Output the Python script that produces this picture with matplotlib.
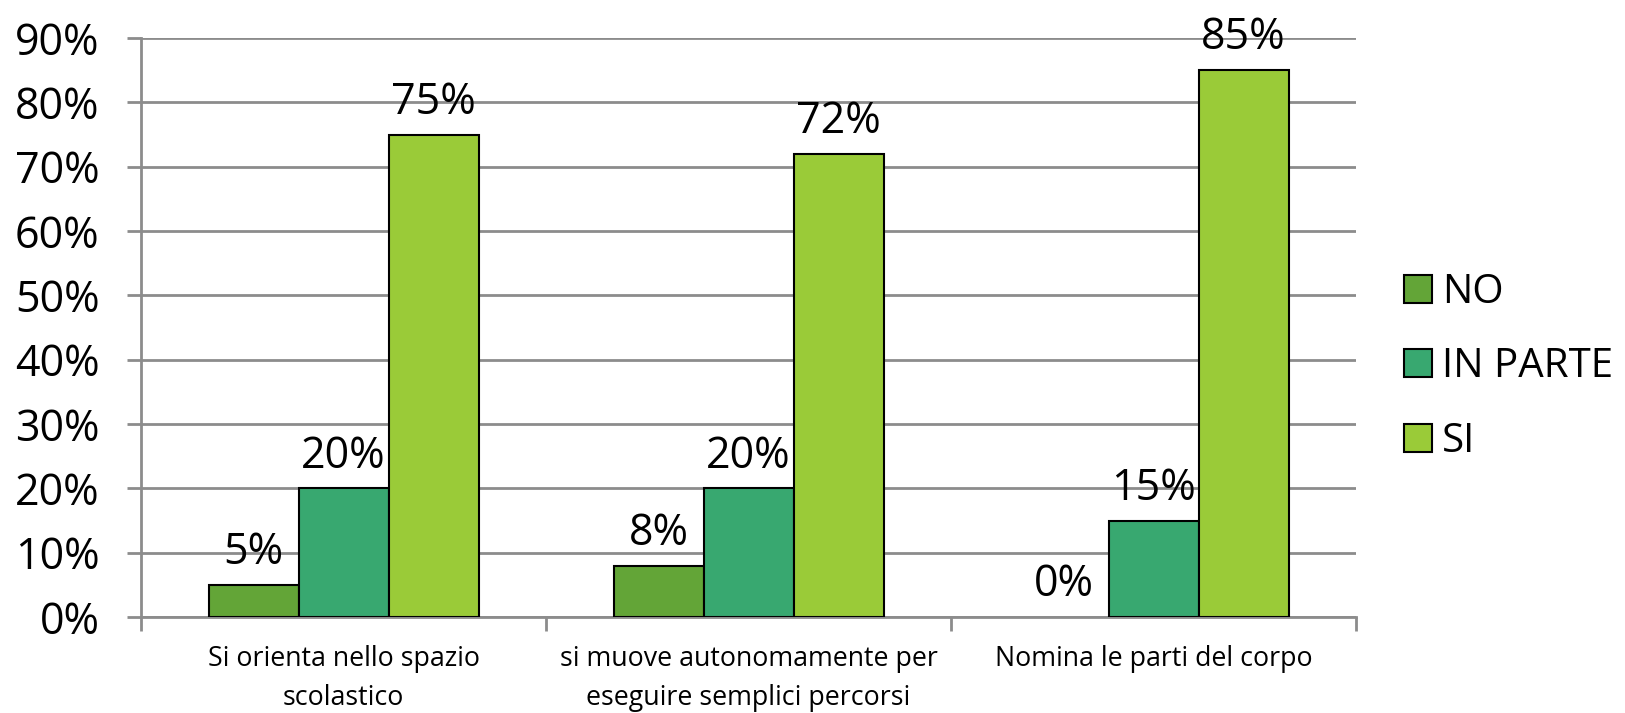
import matplotlib
matplotlib.use("Agg")
import matplotlib.pyplot as plt
import numpy as np

categories = ["Si orienta nello spazio\nscolastico",
              "si muove autonomamente per\neseguire semplici percorsi",
              "Nomina le parti del corpo"]
series = ["NO", "IN PARTE", "SI"]
no_vals = [0.05, 0.08, 0.00]
inparte_vals = [0.20, 0.20, 0.15]
si_vals = [0.75, 0.72, 0.85]
yticks = [0, 0.1, 0.2, 0.3, 0.4, 0.5, 0.6, 0.7, 0.8, 0.9]
ytick_labels = ["0%", "10%", "20%", "30%", "40%", "50%", "60%", "70%", "80%", "90%"]
colors = ["#63A537", "#38A870", "#9ACB38"]

plt.rcParams['font.family'] = ['Open Sans', 'DejaVu Sans']

fig = plt.figure(figsize=(16.25, 7.13), dpi=100)
ax = fig.add_axes([0.0868, 0.1346, 0.8345 - 0.0868, 0.9467 - 0.1346])

x = np.arange(len(categories))
w = 1 / 4.5
grid_c = "#8c8c8c"
for i, (vals, c, name) in enumerate(zip([no_vals, inparte_vals, si_vals], colors, series)):
    pos = x + (i - 1) * w
    lws = [1.5 if v > 0 else 0 for v in vals]
    ax.bar(pos, vals, width=w, color=c, edgecolor="black", linewidth=lws, label=name, zorder=3)
    for xb, v in zip(pos, vals):
        ax.annotate(f"{round(v*100)}%", (xb, v), xytext=(0, 7), textcoords="offset points",
                    ha="center", va="bottom", fontsize=31, color="black")

ax.set_xlim(-0.5, len(categories) - 0.5)
ax.set_ylim(0, 0.9)
ax.set_yticks(yticks)
ax.set_yticklabels(ytick_labels, fontsize=31)
ax.yaxis.grid(True, color=grid_c, linewidth=2, zorder=0)
ax.set_axisbelow(True)

ax.set_xticks(x)
ax.set_xticklabels(categories, fontsize=19.3, linespacing=1.55)
ax.set_xticks(np.arange(len(categories) + 1) - 0.5, minor=True)
ax.tick_params(axis="x", which="major", length=0, pad=20)
ax.tick_params(axis="x", which="minor", length=10, width=2, color=grid_c, direction="out")
ax.tick_params(axis="y", length=10, width=2, color=grid_c, pad=20)

for s in ["top", "right"]:
    ax.spines[s].set_visible(False)
for s in ["left", "bottom"]:
    ax.spines[s].set_color(grid_c)
    ax.spines[s].set_linewidth(2)

leg = fig.legend(loc="center left", bbox_to_anchor=(0.854, 0.485), frameon=False,
                 fontsize=29, handlelength=0.7, handleheight=0.7, handletextpad=0.25,
                 labelspacing=0.85, borderaxespad=0)
for h in leg.legend_handles:
    h.set_linewidth(1.5)

fig.savefig("out.png", dpi=100)
